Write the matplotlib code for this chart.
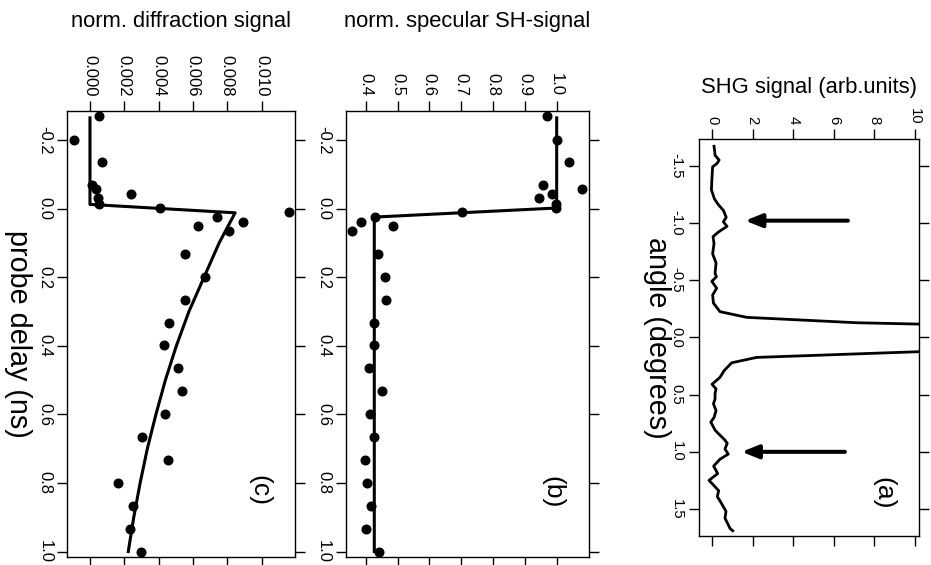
import matplotlib
matplotlib.use("Agg")
import matplotlib.pyplot as plt

plt.rcParams["font.family"] = ["Liberation Sans", "DejaVu Sans"]
plt.rcParams["axes.unicode_minus"] = False

# (a) SHG angular scan
angle = [-1.67, -1.63, -1.59, -1.55, -1.52, -1.49, -1.40, -1.29, -1.21, -1.16,
         -1.11, -1.05, -1.01, -0.97, -0.92, -0.88, -0.82, -0.73, -0.65, -0.56,
         -0.53, -0.49, -0.43, -0.37, -0.30, -0.225, -0.175, -0.128, 0.0, 0.12,
         0.175, 0.222, 0.29, 0.35, 0.41, 0.45, 0.49, 0.54, 0.58, 0.64,
         0.70, 0.74, 0.77, 0.81, 0.84, 0.89, 0.925, 0.975, 1.02, 1.065,
         1.125, 1.19, 1.25, 1.29, 1.34, 1.39, 1.455, 1.52, 1.58, 1.67, 1.69]
shg = [0.10, 0.13, 0.15, 0.35, 0.25, 0.03, 0.00, -0.03, 0.12, 0.31,
       0.56, 0.70, 0.56, 0.74, 0.31, 0.05, 0.10, 0.03, 0.20, 0.15,
       0.22, -0.01, 0.23, 0.03, 0.07, 0.39, 1.71, 7.13, 40.0, 11.0,
       2.20, 0.97, 0.60, 0.39, 0.00, 0.20, 0.15, 0.15, 0.07, 0.20,
       0.10, -0.06, 0.03, 0.15, 0.31, 0.60, 0.75, 0.64, 0.80, 0.39,
       0.08, 0.28, -0.15, 0.07, 0.33, 0.26, 0.48, 0.69, 0.64, 0.89, 1.02]
arrow_angle = [-1.02, 1.0]
arrow_tail = [6.7, 6.55]
arrow_tip = [1.63, 1.46]

# (b), (c) probe delay series
delay = [-0.27, -0.2, -0.135, -0.069, -0.056, -0.043, -0.030, -0.014, -0.003, 0.011,
         0.024, 0.038, 0.051, 0.065, 0.132, 0.199, 0.265, 0.332, 0.399, 0.466,
         0.532, 0.599, 0.666, 0.732, 0.799, 0.866, 0.933, 1.0]
specular = [0.970, 1.001, 1.039, 0.956, 1.080, 0.986, 0.945, 0.998, 0.998, 0.702,
            0.430, 0.386, 0.485, 0.358, 0.439, 0.460, 0.464, 0.426, 0.425, 0.409,
            0.450, 0.414, 0.427, 0.398, 0.405, 0.417, 0.400, 0.441]
diffraction = [0.00052, -0.00093, 0.00072, 0.00014, 0.00035, 0.00239, 0.00047, 0.00052, 0.0041, 0.01159,
               0.0074, 0.00891, 0.00631, 0.0081, 0.00553, 0.00672, 0.00555, 0.0046, 0.00433, 0.00514,
               0.00538, 0.00437, 0.00305, 0.00452, 0.00161, 0.0025, 0.00233, 0.00297]

fit_b_delay = [-0.265, -0.002, 0.0245, 1.0]
fit_b = [1.0, 1.0, 0.427, 0.427]
fit_c_delay = [-0.265, -0.0125, 0.012, 0.1, 0.2, 0.3, 0.4, 0.5, 0.6, 0.7, 0.8, 0.9, 1.0]
fit_c = [0.0, 0.0, 0.00845, 0.00752, 0.00664, 0.00576, 0.00503, 0.00439, 0.00384,
         0.00334, 0.00292, 0.00255, 0.00223]

delay_ticks = [-0.2, 0.0, 0.2, 0.4, 0.6, 0.8, 1.0]
delay_labels = ["-0.2", "0.0", "0.2", "0.4", "0.6", "0.8", "1.0"]
spec_ticks = [0.4, 0.5, 0.6, 0.7, 0.8, 0.9, 1.0]
spec_labels = ["0.4", "0.5", "0.6", "0.7", "0.8", "0.9", "1.0"]
diff_ticks = [0.0, 0.002, 0.004, 0.006, 0.008, 0.010]
diff_labels = ["0.000", "0.002", "0.004", "0.006", "0.008", "0.010"]
angle_ticks = [-1.5, -1.0, -0.5, 0.0, 0.5, 1.0, 1.5]
angle_labels = ["-1.5", "-1.0", "-0.5", "0.0", "0.5", "1.0", "1.5"]
shg_ticks = [0, 2, 4, 6, 8, 10]
shg_labels = ["0", "2", "4", "6", "8", "10"]

fig = plt.figure(figsize=(9.31, 5.65), dpi=100)


def setup(ax, xt, xl, yt, yl, size):
    # the whole page is turned a quarter turn, so every label reads downwards
    ax.set_xticks(xt)
    ax.set_xticklabels(xl)
    ax.set_yticks(yt)
    ax.set_yticklabels(yl)
    ax.tick_params(direction="out", length=7.2, width=1.0, top=True, bottom=True,
                   left=True, right=True, labeltop=True, labelbottom=False,
                   labelleft=True, labelright=False, labelsize=size, pad=3.5)
    for t in ax.get_xticklabels():
        t.set_rotation(-90)
    for t in ax.get_yticklabels():
        t.set_rotation(-90)
        t.set_va("center")
    for s in ax.spines.values():
        s.set_linewidth(1.0)


# (c) diffraction
ax_c = fig.add_axes([0.0723, 0.01416, 0.2446, 0.7894])
ax_c.plot(fit_c, fit_c_delay, color="black", lw=2.2)
ax_c.plot(diffraction, delay, "o", color="black", ms=6.2)
ax_c.set_xlim(-0.00132, 0.01194)
ax_c.set_ylim(1.016, -0.285)
setup(ax_c, diff_ticks, diff_labels, delay_ticks, delay_labels, 12)
ax_c.text(0.842, 0.15, "(c)", transform=ax_c.transAxes, rotation=-90,
          ha="center", va="center", fontsize=19)

# (b) specular
ax_b = fig.add_axes([0.3716, 0.01416, 0.2607, 0.7894])
ax_b.plot(fit_b, fit_b_delay, color="black", lw=2.2)
ax_b.plot(specular, delay, "o", color="black", ms=6.2)
ax_b.set_xlim(0.338, 1.1005)
ax_b.set_ylim(1.016, -0.285)
setup(ax_b, spec_ticks, spec_labels, delay_ticks, delay_labels, 12)
ax_b.text(0.85, 0.145, "(b)", transform=ax_b.transAxes, rotation=-90,
          ha="center", va="center", fontsize=19)

# (a) angular scan
ax_a = fig.add_axes([0.7505, 0.05186, 0.2366, 0.7016])
ax_a.plot(shg, angle, color="black", lw=2.0)
for a, t0, t1 in zip(arrow_angle, arrow_tail, arrow_tip):
    ax_a.annotate("", xy=(t1, a), xytext=(t0, a),
                  arrowprops=dict(arrowstyle="-|>,head_length=0.5,head_width=0.2",
                                  lw=2.9, color="black", mutation_scale=20,
                                  shrinkA=0, shrinkB=0))
ax_a.set_xlim(-0.655, 10.2)
ax_a.set_ylim(1.733, -1.731)
setup(ax_a, shg_ticks, shg_labels, angle_ticks, angle_labels, 10.7)
ax_a.text(0.838, 0.107, "(a)", transform=ax_a.transAxes, rotation=-90,
          ha="center", va="center", fontsize=19)

fig.text(0.1946, 1 - 21.5 / 565, "norm. diffraction signal", ha="center", va="center", fontsize=15.8)
fig.text(0.5019, 1 - 21.5 / 565, "norm. specular SH-signal", ha="center", va="center", fontsize=15.8)
fig.text(0.8687, 1 - 87 / 565, "SHG signal (arb.units)", ha="center", va="center", fontsize=15.8)
fig.text(0.0188, 0.4088, "probe delay (ns)", rotation=-90, ha="center", va="center", fontsize=20.7)
fig.text(0.7054, 0.4027, "angle (degrees)", rotation=-90, ha="center", va="center", fontsize=20.7)

fig.savefig("out.png", dpi=100)
